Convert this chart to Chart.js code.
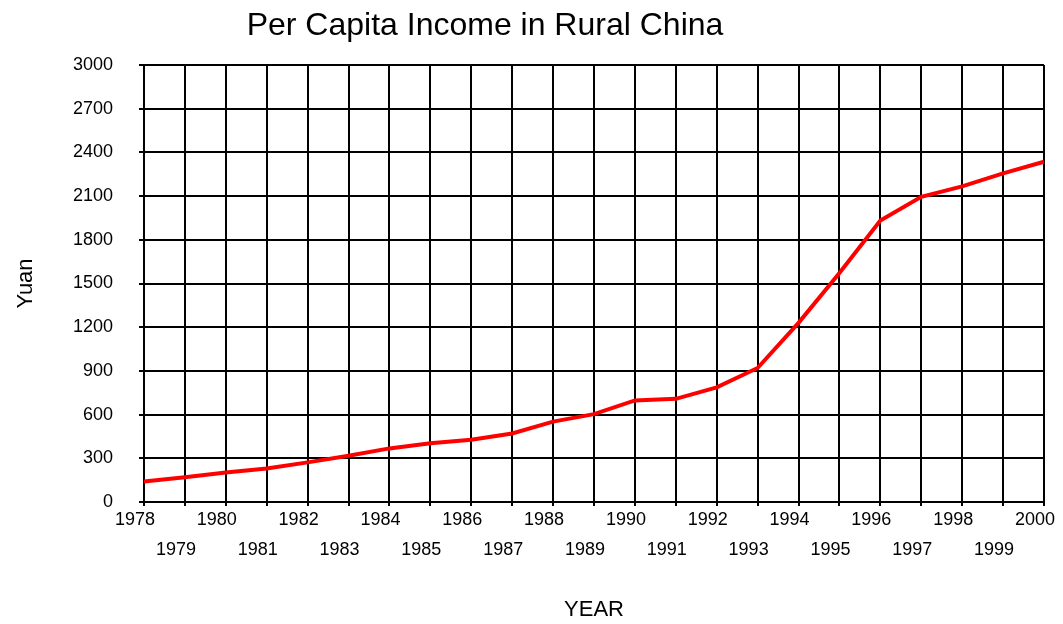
<!DOCTYPE html>
<html>
<head>
<meta charset="utf-8">
<title>Per Capita Income in Rural China</title>
<script src="https://cdn.jsdelivr.net/npm/chart.js@4/dist/chart.umd.min.js"></script>
<style>
  html, body { margin: 0; padding: 0; background: #fff; }
  #wrap { width: 1063px; height: 624px; }
</style>
</head>
<body>
<div id="wrap"><canvas id="chart" width="1063" height="624"></canvas></div>
<script>
const years = ['1978', '1979', '1980', '1981', '1982', '1983', '1984', '1985',
  '1986', '1987', '1988', '1989', '1990', '1991', '1992', '1993', '1994',
  '1995', '1996', '1997', '1998', '1999', '2000'];
const income = [140, 170, 203, 230, 272, 318, 368, 404, 428, 470, 552, 603,
  697, 708, 787, 920, 1230, 1572, 1932, 2095, 2167, 2256, 2336];

const FONT = '"Liberation Sans", Arial, sans-serif';
const titleText = 'Per Capita Income in Rural China';

// title is drawn by hand so it can sit left of the plot centre
const titlePlugin = {
  id: 'topTitle',
  afterDraw(chart) {
    const ctx = chart.ctx;
    ctx.save();
    ctx.font = '32px ' + FONT;
    ctx.fillStyle = '#000';
    ctx.textAlign = 'center';
    ctx.textBaseline = 'middle';
    ctx.fillText(titleText, 485, 26);
    ctx.restore();
  }
};

new Chart(document.getElementById('chart'), {
  type: 'line',
  data: {
    labels: years,
    datasets: [{
      label: 'Yuan',
      data: income,
      borderColor: '#ff0000',
      borderWidth: 4,
      pointRadius: 0,
      tension: 0,
      fill: false
    }]
  },
  options: {
    responsive: false,
    animation: false,
    layout: { padding: { left: 4, right: 18, top: 65, bottom: 0 } },
    plugins: {
      legend: { display: false },
      tooltip: { enabled: false },
      title: { display: false }
    },
    scales: {
      x: {
        type: 'category',
        offset: false,
        afterFit: (scale) => { scale.height = 122; },
        grid: { color: '#000', lineWidth: 2, tickLength: 4, drawTicks: true },
        border: { color: '#000', width: 2 },
        ticks: {
          color: '#000',
          font: { family: FONT, size: 18, lineHeight: 1.667 },
          padding: -1,
          labelOffset: -9,
          maxRotation: 0,
          autoSkip: false,
          // odd years drop to a second row
          callback: function (value, index) {
            const lbl = this.getLabelForValue(value);
            return index % 2 === 1 ? ['', lbl] : lbl;
          }
        },
        title: {
          display: true,
          text: 'YEAR',
          color: '#000',
          font: { family: FONT, size: 22 },
          padding: { top: 0, bottom: 1 }
        }
      },
      y: {
        min: 0,
        max: 3000,
        afterFit: (scale) => { scale.width = 140; },
        grid: { color: '#000', lineWidth: 2, tickLength: 5 },
        border: { color: '#000', width: 2 },
        ticks: {
          stepSize: 300,
          color: '#000',
          font: { family: FONT, size: 18 },
          padding: 26,
          callback: (v) => String(v)
        },
        title: {
          display: true,
          text: 'Yuan',
          color: '#000',
          font: { family: FONT, size: 22 },
          padding: { top: 9, bottom: 0 }
        }
      }
    }
  },
  plugins: [titlePlugin]
});
</script>
</body>
</html>
